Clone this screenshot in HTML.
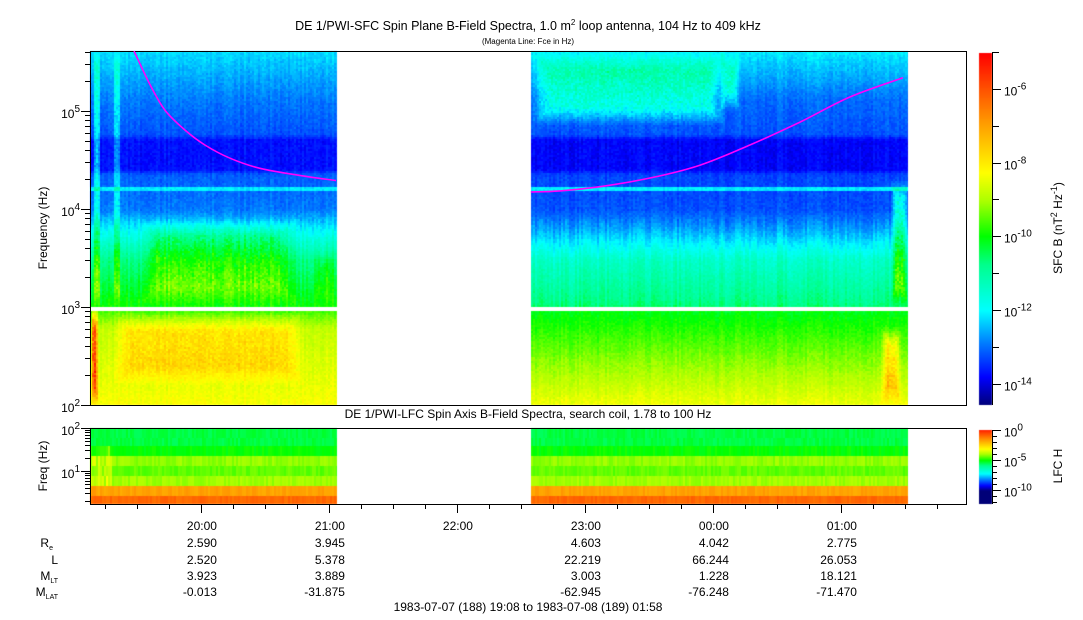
<!DOCTYPE html>
<html><head><meta charset="utf-8">
<style>
html,body{margin:0;padding:0;background:#fff;}
#wrap{position:relative;width:1083px;height:620px;overflow:hidden;font-family:"Liberation Sans",Arial,sans-serif;}
canvas,svg{position:absolute;left:0;top:0;}
text{font-family:"Liberation Sans",Arial,sans-serif;fill:#000;}
</style></head>
<body>
<div id="wrap">
<canvas id="cv" width="1083" height="620"></canvas>
<svg id="sv" width="1083" height="620"></svg>
</div>
<script>
// ---------- DATA ----------
const segStart = [19.133, 22.578];
const segEnd   = [21.063, 25.522];
const sfcLogF  = [5.61, 5.32, 5.11, 4.76, 4.70, 4.40, 4.35, 3.99, 3.79, 3.48, 3.02, 2.95, 2.77, 2.26, 2.00];
const seg1Levels = [-12.2, -12.6, -12.9, -13.2, -13.7, -13.7, -13.1, -12.9, -12.0, -10.8, -10.0, -9.6, -8.8, -8.5, -8.3];
const seg2Levels = [-12.1, -12.6, -13.0, -13.2, -13.8, -13.8, -13.3, -13.2, -12.6, -11.4, -10.7, -10.1, -9.8, -8.9, -8.4];
const lineFreq  = [16000];
const lineLevel = [-12.1];
// [tStart, tEnd, log10 fLo, log10 fHi, delta level]
const events = [
  [19.150, 19.21, 3.0, 5.61, 1.3],
  [19.30, 19.37, 3.0, 5.61, 1.0],
  [19.133, 19.19, 2.0, 3.0, 2.8],
  [19.30, 20.80, 2.2, 2.95, 0.9],
  [19.50, 20.75, 3.0, 3.9, 1.0],
  [20.85, 21.063, 3.0, 3.6, 0.5],
  [22.578, 24.10, 4.85, 5.61, 1.4],
  [24.05, 24.20, 5.0, 5.6, 1.3],
  [25.30, 25.47, 2.0, 2.8, 1.4],
  [25.38, 25.522, 3.0, 4.3, 1.6]
];
const gapLo = 905, gapHi = 1020;
const fceT1 = [19.477, 19.602, 19.719, 19.875, 20.031, 20.227, 20.461, 20.773, 21.055];
const fceF1 = [409000, 186000, 102000, 64000, 45000, 33000, 26000, 22000, 19500];
const fceT2 = [22.578, 22.805, 23.117, 23.508, 23.898, 24.289, 24.680, 25.070, 25.484];
const fceF2 = [14900, 15300, 16900, 20700, 28000, 45000, 77000, 139000, 218000];
const lfcEdges = [100, 58.5, 38.1, 22.3, 13.1, 7.65, 4.48, 2.62, 1.71];
const lfc1 = [-5.4, -5.4, -5.0, -4.1, -4.4, -4.0, -1.7, -0.9];
const lfc2 = [-5.4, -5.4, -5.0, -4.1, -4.4, -4.0, -1.7, -0.9];
const hourLabels = ["20:00","21:00","22:00","23:00","00:00","01:00"];
const hourVals = [20,21,22,23,24,25];
const reVals   = ["2.590","3.945","","4.603","4.042","2.775"];
const lVals    = ["2.520","5.378","","22.219","66.244","26.053"];
const mltVals  = ["3.923","3.889","","3.003","1.228","18.121"];
const mlatVals = ["-0.013","-31.875","","-62.945","-76.248","-71.470"];

// ---------- AXES ----------
const X0=90, X1=966, T0=19+8/60, PXH=128;
const xOf = t => X0 + (t - T0) * PXH;
const Y_TOP=51, Y_BOT=405, DEC=98;
const yOfF = f => Y_BOT - (Math.log10(f) - 2) * DEC;
const L_TOP=428, L_BOT=504, LDEC=43;
const yOfLF = f => L_TOP + (2 - Math.log10(f)) * LDEC;
const CB_TOP=53, CB_BOT=405;
const tOfLevel = L => (L + 14.57) / 9.54;
const tOfLfc = L => 0.48 + (L + 5) * 0.095;

const stops=[[0,0,0,120],[0.08,0,0,255],[0.18,0,128,255],[0.27,0,255,255],[0.40,0,255,140],[0.48,0,255,0],[0.58,170,255,0],[0.66,255,255,0],[0.79,255,165,0],[0.90,255,80,0],[1,255,0,0]];
function cmap(t){
  t=Math.max(0,Math.min(1,t));
  for(let i=1;i<stops.length;i++){
    if(t<=stops[i][0]){const a=stops[i-1],b=stops[i],u=(t-a[0])/(b[0]-a[0]);
      return [a[1]+(b[1]-a[1])*u,a[2]+(b[2]-a[2])*u,a[3]+(b[3]-a[3])*u];}
  }
  return [255,0,0];
}
function interp(xs,ys,x){
  if(x>=xs[0]) return ys[0];
  for(let i=1;i<xs.length;i++){ if(x>=xs[i]){const u=(x-xs[i])/(xs[i-1]-xs[i]);return ys[i]+(ys[i-1]-ys[i])*u;} }
  return ys[ys.length-1];
}
function hash(a,b){let h=(a*374761393+b*668265263)|0;h=(h^(h>>>13))*1274126177|0;return ((h^(h>>>16))>>>0)/4294967295;}
function win(v,a,b,r){ if(v<a||v>b) return 0; return Math.min(1,(v-a)/r,(b-v)/r); }

const cv=document.getElementById('cv'), ctx=cv.getContext('2d');
const img=ctx.createImageData(1083,620), D=img.data;
function put(x,y,c){const i=(y*1083+x)*4;D[i]=c[0];D[i+1]=c[1];D[i+2]=c[2];D[i+3]=255;}

for(let s=0;s<2;s++){
  const prof = s===0?seg1Levels:seg2Levels;
  const lfc = s===0?lfc1:lfc2;
  const xa=Math.round(xOf(segStart[s])), xb=Math.round(xOf(segEnd[s]));
  for(let x=xa;x<xb;x+=2){
    const t=T0+(x-X0)/PXH;
    const colN=(hash(x,7)-0.5)*0.3;
    for(let y=Y_TOP;y<Y_BOT;y+=2){
      const lf=2+(Y_BOT-y-1)/DEC, f=Math.pow(10,lf);
      if(f>gapLo&&f<gapHi) continue;
      let L=interp(sfcLogF,prof,lf);
      for(let k=0;k<lineFreq.length;k++){ if(Math.abs(yOfF(lineFreq[k])-y)<2) L=Math.max(L,lineLevel[k]); }
      for(const e of events){
        const w=Math.min(win(t,e[0],e[1],Math.min(0.15,(e[1]-e[0])/3)),win(lf,e[2],e[3],0.2));
        if(w>0) L+=e[4]*w*(0.7+0.5*hash(x,y*3));
      }
      L+=colN*(lf<3.9&&lf>3.0?1.6:0.8)+(hash(x,y)-0.5)*0.3;
      const c=cmap(tOfLevel(L));
      for(let dx=0;dx<2&&x+dx<xb;dx++)for(let dy=0;dy<2&&y+dy<Y_BOT;dy++)put(x+dx,y+dy,c);
    }
    for(let b=0;b<lfc.length;b++){
      const ya=Math.round(yOfLF(lfcEdges[b])), yb=Math.round(yOfLF(lfcEdges[b+1]));
      let L=lfc[b]+(hash(x,b*11)-0.5)*0.35;
      if(s===0&&t<19.29&&b>=2&&b<=5) L+=0.9*hash(x,b);
      const c=cmap(tOfLfc(L));
      for(let dx=0;dx<2&&x+dx<xb;dx++)for(let y=ya;y<Math.min(yb,L_BOT);y++)put(x+dx,y,c);
    }
  }
}
for(let y=CB_TOP;y<CB_BOT;y++){const c=cmap((CB_BOT-y)/(CB_BOT-CB_TOP));for(let x=979;x<992;x++)put(x,y,c);}
for(let y=430;y<504;y++){const L=-12.3+(504-y)/74*12.3;const c=cmap(tOfLfc(L));for(let x=979;x<992;x++)put(x,y,c);}
ctx.putImageData(img,0,0);

// ---------- SVG ----------
const NS="http://www.w3.org/2000/svg", sv=document.getElementById('sv');
function mk(tag,attrs,parent){const e=document.createElementNS(NS,tag);for(const k in attrs)e.setAttribute(k,attrs[k]);(parent||sv).appendChild(e);return e;}
function line(x1,y1,x2,y2){return mk('line',{x1,y1,x2,y2,stroke:'#000','stroke-width':1});}
function txt(x,y,s,anchor,size,name){const e=mk('text',{x,y,'text-anchor':anchor||'start','font-size':size||12});e.textContent=s;
  
  
  return e;}
function pow10(x,y,exp,name,anchor){const e=mk('text',{x,y,'font-size':12,'text-anchor':anchor||'end'});
  
  
  e.appendChild(document.createTextNode('10'));const s=mk('tspan',{dy:-6,'font-size':10},e);s.textContent=exp;return e;}

let r=mk('rect',{x:90.5,y:51.5,width:876,height:354,fill:'none',stroke:'#000'});

r=mk('rect',{x:90.5,y:428.5,width:876,height:76,fill:'none',stroke:'#000'});


function poly(ts,fs,name){
  const P=ts.map((t,i)=>[xOf(t),yOfF(fs[i])]);
  let d='M'+P[0][0].toFixed(1)+','+P[0][1].toFixed(1);
  for(let i=0;i<P.length-1;i++){
    const p0=P[Math.max(0,i-1)],p1=P[i],p2=P[i+1],p3=P[Math.min(P.length-1,i+2)];
    const c1=[p1[0]+(p2[0]-p0[0])/6,p1[1]+(p2[1]-p0[1])/6],c2=[p2[0]-(p3[0]-p1[0])/6,p2[1]-(p3[1]-p1[1])/6];
    d+=' C'+c1.map(v=>v.toFixed(1)).join(',')+' '+c2.map(v=>v.toFixed(1)).join(',')+' '+p2.map(v=>v.toFixed(1)).join(',');
  }
  const p=mk('path',{d,fill:'none',stroke:'#ff00ff','stroke-width':1.6});
  }
poly(fceT1,fceF1,'fce-line-segment-1');poly(fceT2,fceF2,'fce-line-segment-2');

for(let d=2;d<=5;d++){for(let m=1;m<10;m++){const f=m*Math.pow(10,d);const y=yOfF(f);if(y<Y_TOP-0.5)continue;
  line(m===1?81:85,Math.round(y)+0.5,90,Math.round(y)+0.5);}}
[2,3,4,5].forEach(d=>pow10(80,yOfF(Math.pow(10,d))+7,String(d),'y-tick-label'));
let yl=txt(0,0,'Frequency (Hz)','middle',12,'y-axis-title');yl.setAttribute('transform','translate(47,228) rotate(-90)');
for(let d=0;d<=2;d++){for(let m=1;m<10;m++){const f=m*Math.pow(10,d);const y=yOfLF(f);if(y<L_TOP-0.5||y>L_BOT)continue;
  line(m===1?81:85,Math.round(y)+0.5,90,Math.round(y)+0.5);}}
[1,2].forEach(d=>pow10(80,yOfLF(Math.pow(10,d))+7,String(d),'lfc-y-tick-label'));
yl=txt(0,0,'Freq (Hz)','middle',12,'lfc-y-axis-title');yl.setAttribute('transform','translate(47,466) rotate(-90)');

for(let t=19.25;t<=26.0;t+=0.25){const x=Math.round(xOf(t))+0.5;if(x<X0||x>X1)continue;
  const major=Math.abs(t-Math.round(t))<0.01;line(x,504,x,major?513:509);}
hourVals.forEach((h,i)=>{const x=xOf(h)+16;
  txt(x,530,hourLabels[i],'end',12,'x-tick-label');
  txt(x,547,reVals[i],'end',12,'re-value');
  txt(x,564,lVals[i],'end',12,'l-value');
  txt(x,580,mltVals[i],'end',12,'mlt-value');
  txt(x,596,mlatVals[i],'end',12,'mlat-value');});
let e=txt(53,547,'R','end',12,'re-row-label');let s=mk('tspan',{dy:3,'font-size':7},e);s.textContent='e';
txt(58,564,'L','end',12,'l-row-label');
e=txt(58,580,'M','end',12,'mlt-row-label');s=mk('tspan',{dy:3,'font-size':7},e);s.textContent='LT';
e=txt(58,596,'M','end',12,'mlat-row-label');s=mk('tspan',{dy:3,'font-size':7},e);s.textContent='LAT';
txt(528,611,'1983-07-07 (188) 19:08 to 1983-07-08 (189) 01:58','middle',12,'time-range-footer');

e=txt(528,30,'DE 1/PWI-SFC  Spin Plane B-Field Spectra, 1.0 m','middle',12.5,'sfc-title');
e.setAttribute('xml:space','preserve');
s=mk('tspan',{dy:-5,'font-size':8},e);s.textContent='2';
s=mk('tspan',{dy:5},e);s.textContent=' loop antenna, 104 Hz to 409 kHz';
txt(528,44,'(Magenta Line: Fce in Hz)','middle',8,'sfc-subtitle');
e=txt(528,418,'DE 1/PWI-LFC  Spin Axis B-Field Spectra, search coil, 1.78 to 100 Hz','middle',12,'lfc-title');
e.setAttribute('xml:space','preserve');

r=mk('rect',{x:979,y:53,width:13,height:352,fill:'none',stroke:'none'});

line(992.5,53,992.5,405);line(992.5,504,992.5,430);
const cbY=L=>CB_BOT-(L+14.57)/9.54*(CB_BOT-CB_TOP);
for(let L=-14;L<=-5;L++){const y=Math.round(cbY(L))+0.5;line(992,y,L%2===0?1001:999,y);
  if(L%2===0) pow10(1004,y+6,String(L),'colorbar-tick-label','start');}
const lcbY=L=>504-(L+12.3)/12.3*74;
for(let L=-12;L<=0;L++){const y=Math.round(lcbY(L))+0.5;line(992,y,L%5===0?1001:997,y);
  if(L%5===0) pow10(1004,y+6,String(L),'lfc-colorbar-tick-label','start');}
e=mk('text',{'text-anchor':'middle','font-size':12,transform:'translate(1062,228) rotate(-90)'});

e.appendChild(document.createTextNode('SFC B (nT'));s=mk('tspan',{dy:-5,'font-size':9},e);s.textContent='2';
s=mk('tspan',{dy:5},e);s.textContent=' Hz';s=mk('tspan',{dy:-5,'font-size':9},e);s.textContent='-1';s=mk('tspan',{dy:5},e);s.textContent=')';
e=txt(0,0,'LFC H','middle',12,'lfc-colorbar-title');e.setAttribute('transform','translate(1062,466) rotate(-90)');
</script>
</body></html>
